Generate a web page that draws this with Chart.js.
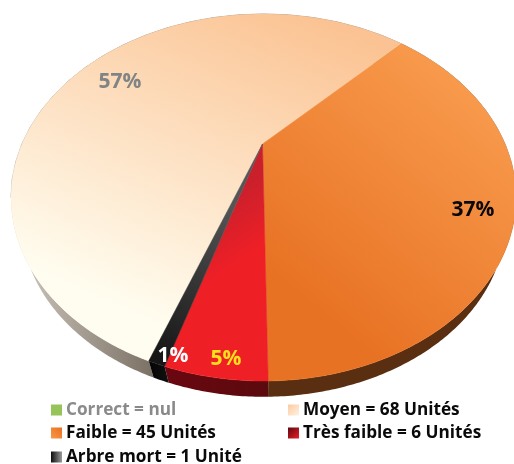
<!DOCTYPE html>
<html><head><meta charset="utf-8">
<style>html,body{margin:0;padding:0;background:#fff}#w{position:relative;width:514px;height:464px;overflow:hidden}</style>
<script src="https://cdn.jsdelivr.net/npm/chart.js@4"></script>
</head><body><div id="w"><canvas id="c" width="514" height="464"></canvas></div>
<script>
const categories = ['Correct = nul','Moyen = 68 Unités','Faible = 45 Unités','Très faible = 6 Unités','Arbre mort = 1 Unité'];
const units = [0,68,45,6,1];
const percentLabels = ['', '57%','37%','5%','1%'];
const labelColors = ['', '#808484','#0a0a0a','#ffe01a','#ffffff'];
const baseColors = ['#97c459','#fdd3ae','#f08a35','#ee1f26','#222222'];
const sliceGrad = [['#97c459','#97c459'],['#fbc393','#fffdf0'],['#f89a4c','#e87224'],['#c9202c','#ef1f26'],['#555555','#161616']];
const wallGrad = [['#555','#555'],['#c9c2b8','#7a6f63'],['#5a2e10','#5a2e10'],['#6a0710','#5a0a0e'],['#050505','#111111']];
const swatchGrad = [['#97c459','#97c459'],['#fff3e4','#fcc99e'],['#f8994c','#e96f20'],['#5c0710','#ee1f26'],['#0d0d0d','#9a9a9a']];
const legendColors = ['#8a8a8a','#0a0a0a','#0a0a0a','#0a0a0a','#0a0a0a'];

// Perspective of the disc: top ellipse, the apex its centre projects to, and the smaller lower rim
const E = {cx:263.5, cy:197.5, a:252.5, c:183.5};
const APEX = {x:262.5, y:144};
const WALL = {scale:0.958, cy:221};
const pu=(APEX.x-E.cx)/E.a, pv=(APEX.y-E.cy)/E.c;
const pn=pu*pu+pv*pv, pk=(1-Math.sqrt(1-pn))/pn, qx=pu*pk, qy=pv*pk;
function project(phi){
  const ex=Math.cos(phi), ey=Math.sin(phi);
  const nx=ex+qx, ny=ey+qy, dx=1+qx*ex+qy*ey, dy=qx*ey-qy*ex;
  const d=dx*dx+dy*dy, u=(nx*dx+ny*dy)/d, v=(ny*dx-nx*dy)/d;
  return {x:E.cx+E.a*u, y:E.cy+E.c*v};
}
function lower(p){return {x:E.cx+WALL.scale*(p.x-E.cx), y:WALL.cy+WALL.scale*(p.y-E.cy)};}
function rim(a0,a1){const n=Math.max(2,Math.ceil(Math.abs(a1-a0)/0.01)),r=[];for(let i=0;i<=n;i++)r.push(project(a0+(a1-a0)*i/n));return r;}
function lin(ctx,x0,y0,x1,y1,cols){const g=ctx.createLinearGradient(x0,y0,x1,y1);g.addColorStop(0,cols[0]);g.addColorStop(1,cols[1]);return g;}

const perspectivePie = {
  id:'perspectivePie',
  beforeDatasetsDraw(chart){
    const ctx=chart.ctx, arcs=chart.getDatasetMeta(0).data;
    ctx.save();
    // walls
    arcs.forEach((arc,i)=>{
      if(arc.endAngle-arc.startAngle<=0)return;
      const pts=rim(arc.startAngle,arc.endAngle);
      ctx.beginPath();
      pts.forEach((p,k)=>k?ctx.lineTo(p.x,p.y):ctx.moveTo(p.x,p.y));
      pts.slice().reverse().forEach(p=>{const q=lower(p);ctx.lineTo(q.x,q.y);});
      ctx.closePath();
      const wx=i===1?[25,155]:i===2?[270,500]:i===3?[165,270]:[150,170];
      ctx.fillStyle=lin(ctx,wx[0],0,wx[1],0,wallGrad[i]);
      ctx.fill();
    });
    // thin rim line
    ctx.beginPath();ctx.ellipse(E.cx,E.cy,E.a,E.c,0,Math.PI,2*Math.PI);
    ctx.strokeStyle='#9c9c9c';ctx.lineWidth=1;ctx.stroke();
    // top faces
    arcs.forEach((arc,i)=>{
      if(arc.endAngle-arc.startAngle<=0)return;
      const pts=rim(arc.startAngle,arc.endAngle);
      ctx.beginPath();ctx.moveTo(APEX.x,APEX.y);
      pts.forEach(p=>ctx.lineTo(p.x,p.y));
      ctx.closePath();
      const g = i===1 ? lin(ctx,310,15,170,330,sliceGrad[i])
              : i===2 ? lin(ctx,500,110,330,320,sliceGrad[i])
              : i===3 ? lin(ctx,200,215,235,265,sliceGrad[i])
              : lin(ctx,240,210,165,360,sliceGrad[i]);
      ctx.fillStyle=g;ctx.fill();
      ctx.strokeStyle=g;ctx.lineWidth=0.5;ctx.stroke();
    });
    // percent labels
    ctx.font='bold 21px "Open Sans"';ctx.textAlign='center';ctx.textBaseline='middle';
    const labelPos=[null,[120,82],[473,210],[226,359],[173,356]];
    arcs.forEach((arc,i)=>{
      if(!percentLabels[i])return;
      ctx.fillStyle=labelColors[i];
      ctx.fillText(percentLabels[i],labelPos[i][0],labelPos[i][1]);
    });
    // legend
    const legendPos=[[51,410],[288,410],[51,433],[288,433],[51,457]];
    ctx.font='bold 17.2px "Open Sans"';ctx.textAlign='left';
    categories.forEach((t,i)=>{
      const [x,y]=legendPos[i];
      ctx.fillStyle=i===4?lin(ctx,x,0,x+11,0,swatchGrad[i])
        :i===1?lin(ctx,x+11,y+6,x,y-6,swatchGrad[i])
        :i===3?lin(ctx,x,y-6,x+11,y+6,swatchGrad[i])
        :lin(ctx,x,y+6,x+11,y-6,swatchGrad[i]);
      ctx.fillRect(x,y-5.5,11,11);
      ctx.fillStyle=legendColors[i];
      ctx.fillText(t,x+15,y+0.5);
    });
    ctx.restore();
    return false;
  }
};
new Chart(document.getElementById('c'),{
  type:'pie',
  data:{labels:categories,datasets:[{data:units,backgroundColor:baseColors,borderWidth:0}]},
  options:{responsive:false,animation:false,rotation:-160,
    plugins:{legend:{display:false},tooltip:{enabled:false}}},
  plugins:[perspectivePie]
});
</script></body></html>
